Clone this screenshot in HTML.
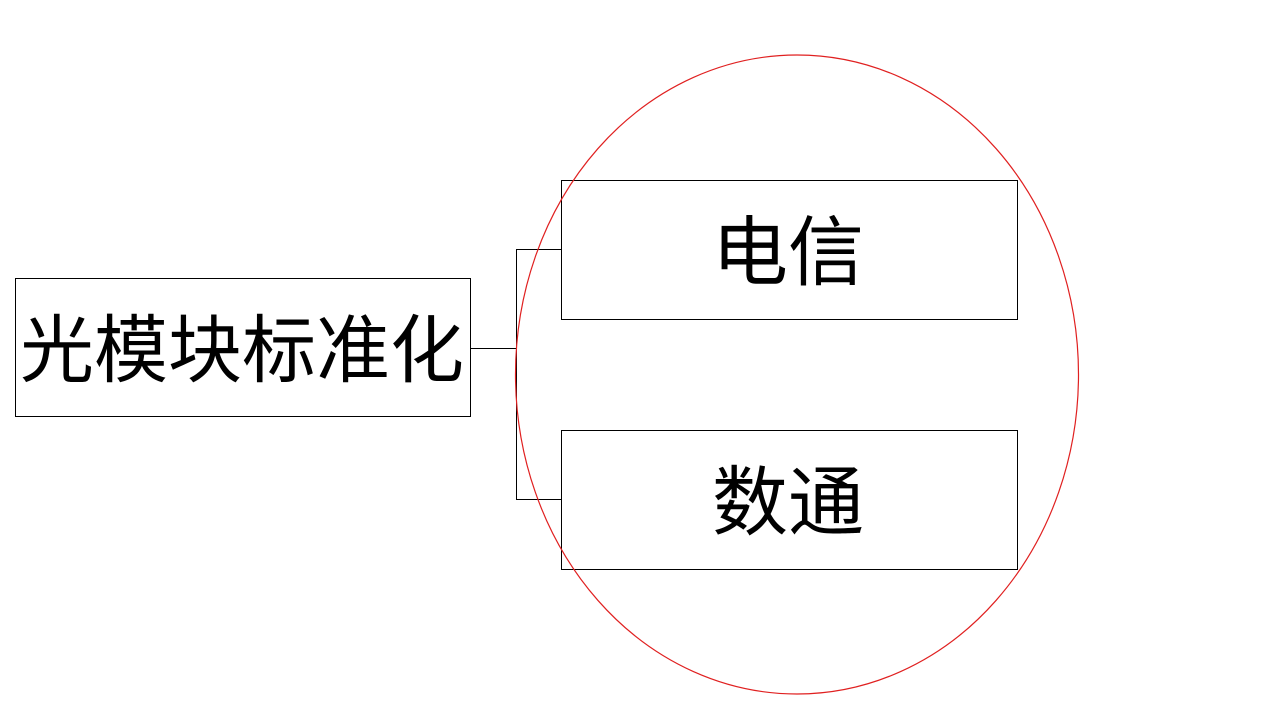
<!DOCTYPE html>
<html><head><meta charset="utf-8"><style>
html,body{margin:0;padding:0;background:#fff;width:1280px;height:720px;overflow:hidden}
svg text{font-family:"Liberation Sans","Noto Sans CJK SC",sans-serif;fill:#000}
</style></head><body>
<svg width="1280" height="720" xmlns="http://www.w3.org/2000/svg">
<rect x="15.5" y="278.5" width="455" height="138" fill="#fff" stroke="#000" stroke-width="1"/>
<text x="242" y="376" font-size="74" text-anchor="middle">光模块标准化</text>
<polyline points="470.5,348.5 516.5,348.5" fill="none" stroke="#000"/>
<polyline points="561.5,249.5 516.5,249.5 516.5,499.5 561.5,499.5" fill="none" stroke="#000"/>
<rect x="561.5" y="180.5" width="456" height="139" fill="#fff" stroke="#000"/>
<text x="788" y="279" font-size="76" text-anchor="middle">电信</text>
<rect x="561.5" y="430.5" width="456" height="139" fill="#fff" stroke="#000"/>
<text x="788" y="529" font-size="76" text-anchor="middle">数通</text>
<ellipse cx="797" cy="374.5" rx="281.5" ry="319.5" fill="none" stroke="#e02020" stroke-width="1.2"/>
</svg>
</body></html>
